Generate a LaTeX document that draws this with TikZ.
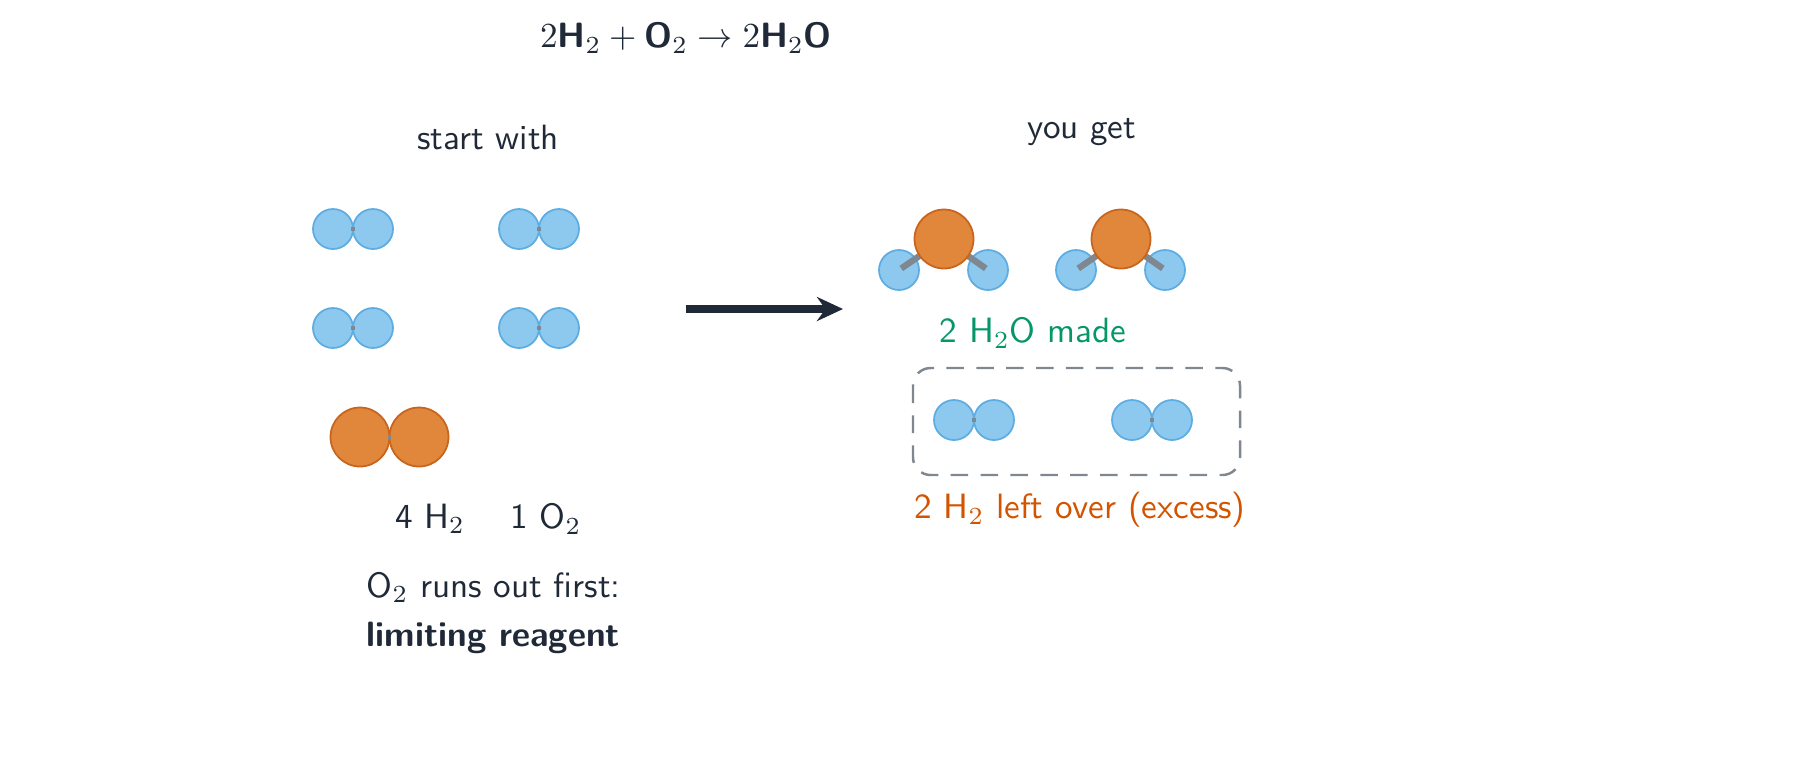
\documentclass[tikz,border=0pt]{standalone}
\usepackage{amsmath}
\usetikzlibrary{arrows.meta,calc}
\definecolor{hblue}{HTML}{8DC9EE}
\definecolor{hedge}{HTML}{5DADE2}
\definecolor{oorange}{HTML}{E0873C}
\definecolor{oedge}{HTML}{C8641C}
\definecolor{ink}{HTML}{1F2937}
\definecolor{madegreen}{HTML}{059669}
\definecolor{leftorange}{HTML}{D35400}
\definecolor{bondgray}{HTML}{7F8790}
\newcommand{\bsf}[1]{\textsf{\textbf{#1}}}
\tikzset{
  hatom/.style={circle, fill=hblue, draw=hedge, line width=0.5pt, minimum size=4mm, inner sep=0pt},
  oatom/.style={circle, fill=oorange, draw=oedge, line width=0.5pt, minimum size=5.9mm, inner sep=0pt},
  bond/.style={draw=bondgray, line width=0.9pt},
  wbond/.style={draw=bondgray, line width=1.8pt},
  lbl/.style={font=\sffamily\color{ink}, inner sep=0pt}
}
\begin{document}
\begin{tikzpicture}[x=0.1mm,y=-0.1mm]
\useasboundingbox (0,0) rectangle (1800,772);
\node [lbl] (title) at (686,38) {$2\bsf{H}_2+\bsf{O}_2\rightarrow 2\bsf{H}_2\bsf{O}$};
\node [lbl] (start) at (488,137) {start with};
\node [lbl] (get) at (1082,132) {you get};
% hydrogen molecules, left
\foreach \n/\x/\y in {a/333/229, b/519/229, c/333/328, d/519/328} {
  \node [hatom] (\n1) at (\x,\y) {};
  \node [hatom] (\n2) at (\x+40,\y) {};
  \draw [bond] ($(\n1)!0.45!(\n2)$) -- ($(\n1)!0.55!(\n2)$);
}
% oxygen molecule
\node [oatom] (o1) at (360,437) {};
\node [oatom] (o2) at (419,437) {};
\draw [bond] ($(o1)!0.47!(o2)$) -- ($(o1)!0.53!(o2)$);
\node [lbl] (nh) at (430,519) {4 H$_2$};
\node [lbl] (no) at (546,519) {1 O$_2$};
\node [lbl, align=left, anchor=west] (runs) at (366,613) {O$_2$ runs out first:\\[2pt]\textbf{limiting reagent}};
% arrow
\coordinate (a1) at (686,309);
\coordinate (a2) at (843,309);
\draw [ink, line width=2.4pt, -{Stealth[length=2.6mm,width=2.4mm]}] (a1) -- (a2);
% water molecules
\foreach \n/\x in {w/944, v/1121} {
  \coordinate (\n o) at (\x,239);
  \coordinate (\n l) at (\x-45,270);
  \coordinate (\n r) at (\x+44,270);
  \node [hatom] (\n h1) at (\n l) {};
  \node [hatom] (\n h2) at (\n r) {};
  \draw [wbond] (\n o) -- ($(\n o)!0.95!(\n l)$);
  \draw [wbond] (\n o) -- ($(\n o)!0.95!(\n r)$);
  \node [oatom] (\n O) at (\n o) {};
}
\node [lbl, text=madegreen] (made) at (1033,333) {2 H$_2$O made};
% excess hydrogen
\draw [bondgray, line width=0.7pt, rounded corners=5pt, dash pattern=on 5pt off 3.5pt] (913,368) rectangle (1240,475);
\foreach \n/\x in {e/954, f/1132} {
  \node [hatom] (\n1) at (\x,420) {};
  \node [hatom] (\n2) at (\x+40,420) {};
  \draw [bond] ($(\n1)!0.45!(\n2)$) -- ($(\n1)!0.55!(\n2)$);
}
\node [lbl, text=leftorange] (left) at (1080,510) {2 H$_2$ left over (excess)};
\end{tikzpicture}
\end{document}
